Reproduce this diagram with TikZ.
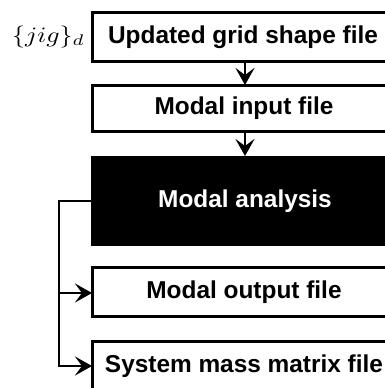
\documentclass[tikz,border=0pt]{standalone}
\usepackage{fontspec}
\setmainfont{Liberation Sans}
\usetikzlibrary{arrows.meta}
\tikzset{
  filebox/.style={draw=black, line width=3pt, fill=white},
  blackbox/.style={fill=black},
  lbl/.style={font=\fontsize{24.4}{28}\selectfont\bfseries, inner sep=0pt},
  conn/.style={line width=2.5pt, -{Stealth[length=17pt,width=19pt,inset=7pt]}},
  plainconn/.style={line width=2.5pt}
}
\begin{document}
\begin{tikzpicture}[x=1pt,y=-1pt]
\useasboundingbox (0,0) rectangle (385,388);
\clip (0,0) rectangle (385,388);
% boxes
\draw[filebox] (92,12) rectangle (398,61);
\node[lbl] (b1) at (243,37) {Updated grid shape file};
\coordinate (b1s) at (245,61);
\draw[filebox] (92,85) rectangle (398,131);
\node[lbl] (b2) at (244,108) {Modal input file};
\coordinate (b2n) at (245,85);
\coordinate (b2s) at (245,131);
\fill[blackbox] (91,156) rectangle (400,246);
\node[lbl, text=white] (b3) at (245,201) {Modal analysis};
\coordinate (b3n) at (245,156);
\coordinate (b3w) at (91,201);
\draw[filebox] (92,267) rectangle (398,316);
\node[lbl] (b4) at (244,292) {Modal output file};
\coordinate (b4w) at (92,293);
\draw[filebox] (92,341) rectangle (398,395);
\node[lbl] (b5) at (244,366) {System mass matrix file};
\coordinate (b5w) at (92,366);
% label
\node[inner sep=0pt, anchor=east] (jig) at (85,37) {\scalebox{2.6}[2.2]{$\{jig\}_d$}};
% connectors
\coordinate (c1) at (59,201);
\coordinate (c2) at (59,293);
\coordinate (c3) at (59,366);
\draw[conn] (b1s) -- (b2n);
\draw[conn] (b2s) -- (b3n);
\draw[plainconn] (b3w) -- (c1) -- (c3);
\draw[conn] (c2) -- (b4w);
\draw[conn] ([xshift=-1.25pt]c3) -- (b5w);
\end{tikzpicture}
\end{document}
